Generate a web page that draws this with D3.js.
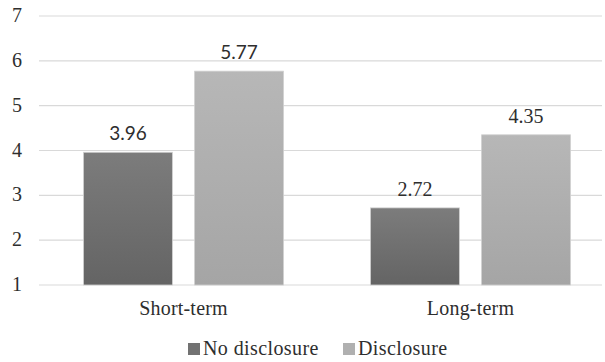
<!DOCTYPE html>
<html>
<head>
<meta charset="utf-8">
<script src="https://cdn.jsdelivr.net/npm/d3@7"></script>
<style>
  body { margin: 0; background: #fff; }
</style>
</head>
<body>
<svg width="605" height="362"></svg>
<script>
const categories = ["Short-term", "Long-term"];
const seriesNames = ["No disclosure", "Disclosure"];
const noDisclosure = [3.96, 2.72];
const disclosure = [5.77, 4.35];
const yTicks = [1, 2, 3, 4, 5, 6, 7];

const serif = "Liberation Serif";
const sans = "Lato";
const ink = "#2e2e2e";

const svg = d3.select("svg");

const y = d3.scaleLinear().domain([1, 7]).range([285, 16]);
const x0 = d3.scaleBand().domain(categories).range([40, 614]);
const x1 = d3.scaleBand().domain(seriesNames)
  .range([43.5, x0.bandwidth() - 43.5]).paddingInner(0.2);

const defs = svg.append("defs");
const grads = [["g0", "#7c7c7c", "#646464"], ["g1", "#b7b7b7", "#a5a5a5"]];
grads.forEach(([id, top, bottom]) => {
  let g = defs.append("linearGradient").attr("id", id)
    .attr("x1", 0).attr("y1", 0).attr("x2", 0).attr("y2", 1);
  g.append("stop").attr("offset", "0%").attr("stop-color", top);
  g.append("stop").attr("offset", "100%").attr("stop-color", bottom);
});
const fills = { "No disclosure": "url(#g0)", "Disclosure": "url(#g1)" };
const legendFill = { "No disclosure": "#727272", "Disclosure": "#b0b0b0" };

// gridlines
svg.append("g")
  .selectAll("line")
  .data(yTicks)
  .join("line")
  .attr("x1", 39).attr("x2", 602)
  .attr("y1", (d) => y(d)).attr("y2", (d) => y(d))
  .attr("stroke", "#d9d9d9").attr("stroke-width", 1.2);

// y tick labels
svg.append("g")
  .selectAll("text")
  .data(yTicks)
  .join("text")
  .attr("x", 22).attr("y", (d) => y(d) + 6)
  .attr("text-anchor", "end")
  .attr("font-family", serif)
  .attr("font-size", 20)
  .attr("fill", ink)
  .text((d) => d);

const rows = categories.map((c, i) => ({
  cat: c,
  values: [
    { key: "No disclosure", value: noDisclosure[i] },
    { key: "Disclosure", value: disclosure[i] },
  ],
}));

const groups = svg.append("g")
  .selectAll("g")
  .data(rows)
  .join("g")
  .attr("transform", (d) => `translate(${x0(d.cat)},0)`);

groups.selectAll("rect")
  .data((d) => d.values)
  .join("rect")
  .attr("x", (d) => x1(d.key))
  .attr("width", x1.bandwidth())
  .attr("y", (d) => y(d.value))
  .attr("height", (d) => y(1) - y(d.value))
  .attr("fill", (d) => fills[d.key])
  .attr("stroke", "#d0d0d0").attr("stroke-width", 0.8);

// short-term values use a sans face in the reference, long-term a serif one
groups.each(function (row, i) {
  d3.select(this).selectAll("text.val")
    .data(row.values)
    .join("text")
    .classed("val", true)
    .attr("x", (d) => x1(d.key) + x1.bandwidth() / 2)
    .attr("y", (d) => y(d.value) - 12)
    .attr("text-anchor", "middle")
    .attr("font-family", i === 0 ? sans : serif)
    .attr("font-size", i === 0 ? 19 : 20)
    .attr("fill", ink)
    .text((d) => d.value.toFixed(2));
});

// category labels
svg.append("g")
  .selectAll("text")
  .data(categories)
  .join("text")
  .attr("x", (d) => x0(d) + x0.bandwidth() / 2)
  .attr("y", 315)
  .attr("text-anchor", "middle")
  .attr("font-family", serif)
  .attr("font-size", 20)
  .attr("letter-spacing", 0.2)
  .attr("fill", ink)
  .text((d) => d);

// legend
const legendX = [188, 343];
const legend = svg.append("g")
  .selectAll("g")
  .data(seriesNames)
  .join("g")
  .attr("transform", (d, i) => `translate(${legendX[i]},343)`);
legend.append("rect")
  .attr("width", 12).attr("height", 12)
  .attr("fill", (d) => legendFill[d]);
legend.append("text")
  .attr("x", 15).attr("y", 12)
  .attr("font-family", serif)
  .attr("font-size", 20)
  .attr("letter-spacing", 0.4)
  .attr("fill", ink)
  .text((d) => d);
</script>
</body>
</html>
